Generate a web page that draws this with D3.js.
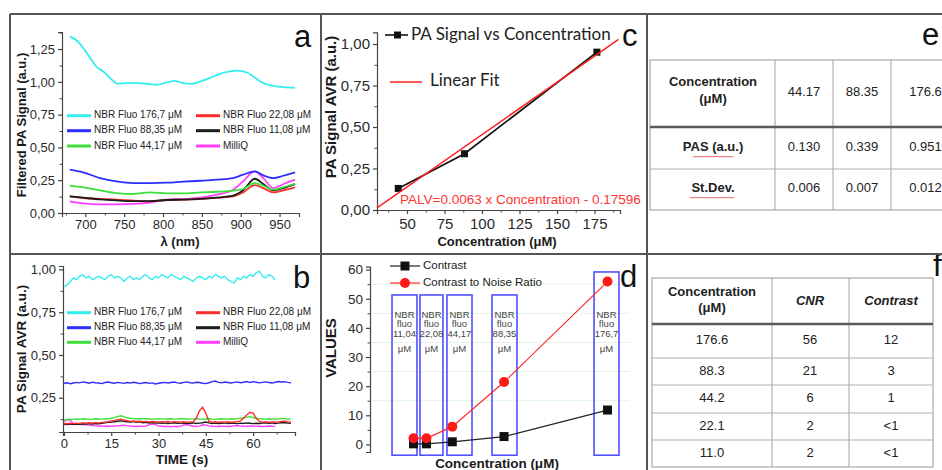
<!DOCTYPE html>
<html>
<head>
<meta charset="utf-8">
<script src="https://cdn.jsdelivr.net/npm/d3@7"></script>
<style>
body { margin: 0; background: #fff; }
svg { display: block; font-family: "Liberation Sans", Arial, sans-serif; }
</style>
</head>
<body>
<div id="chart"></div>
<script>
// ---------- data ----------
const seriesNames = ["NBR Fluo 176,7 μM", "NBR Fluo 88,35 μM", "NBR Fluo 44,17 μM",
                     "NBR Fluo 22,08 μM", "NBR Fluo 11,08 μM", "MilliQ"];

// panel a: filtered spectra
const cyanWl = [680, 689, 699, 708, 714, 723, 732, 742, 753, 770, 783, 792, 805, 815, 826, 837, 848, 860, 873, 886, 895, 908, 916, 929, 942, 955, 970];
const cyanSpec = [1.345, 1.315, 1.244, 1.168, 1.117, 1.079, 1.028, 0.985, 0.99, 0.99, 0.982, 0.977, 0.995, 1.008, 0.99, 0.985, 1.003, 1.028, 1.061, 1.079, 1.086, 1.071, 1.041, 0.99, 0.97, 0.959, 0.954];
const wl = [680, 697, 719, 740, 762, 783, 805, 826, 848, 869, 890, 903, 918, 929, 942, 955, 970];
const blueSpec  = [0.330, 0.310, 0.266, 0.241, 0.228, 0.228, 0.231, 0.239, 0.246, 0.254, 0.266, 0.292, 0.317, 0.287, 0.266, 0.284, 0.310];
const greenSpec = [0.208, 0.195, 0.173, 0.152, 0.145, 0.157, 0.150, 0.150, 0.157, 0.162, 0.170, 0.183, 0.228, 0.208, 0.178, 0.198, 0.223];
const redSpec   = [0.127, 0.114, 0.107, 0.102, 0.094, 0.089, 0.099, 0.102, 0.107, 0.117, 0.127, 0.157, 0.213, 0.190, 0.157, 0.173, 0.195];
const blackSpec = [0.127, 0.117, 0.104, 0.096, 0.091, 0.091, 0.099, 0.102, 0.107, 0.117, 0.132, 0.173, 0.261, 0.221, 0.173, 0.190, 0.221];
const milliqSpec = [0.089, 0.074, 0.066, 0.066, 0.069, 0.079, 0.102, 0.107, 0.117, 0.140, 0.178, 0.241, 0.317, 0.266, 0.190, 0.221, 0.254];

// panel b: PA signal vs time, one sample per second
const timeStep = 1;
const cyanTime = [0.90,0.91,0.93,0.95,0.94,0.96,0.97,0.95,0.96,0.94,0.95,0.96,0.95,0.94,0.96,0.97,0.95,0.96,0.95,0.93,0.95,0.96,0.94,0.95,0.94,0.96,0.97,0.95,0.94,0.96,0.95,0.97,0.96,0.95,0.97,0.96,0.95,0.94,0.96,0.95,0.94,0.93,0.95,0.96,0.95,0.94,0.96,0.95,0.97,0.96,0.95,0.96,0.94,0.93,0.92,0.95,0.94,0.96,0.95,0.97,0.96,0.98,0.99,0.96,0.95,0.97,0.96,0.94];
const blueTime = [0.335,0.338,0.332,0.336,0.340,0.337,0.343,0.339,0.335,0.341,0.338,0.336,0.333,0.339,0.342,0.338,0.335,0.340,0.337,0.334,0.339,0.336,0.341,0.338,0.333,0.336,0.339,0.334,0.337,0.331,0.335,0.338,0.340,0.336,0.339,0.342,0.337,0.335,0.340,0.343,0.338,0.336,0.341,0.339,0.335,0.333,0.338,0.344,0.348,0.340,0.337,0.342,0.339,0.336,0.340,0.343,0.338,0.341,0.345,0.339,0.344,0.341,0.337,0.340,0.343,0.339,0.336,0.341,0.345,0.342,0.344,0.340,0.338];
const greenTime = [0.120,0.123,0.125,0.124,0.126,0.125,0.127,0.126,0.124,0.125,0.127,0.126,0.125,0.128,0.127,0.130,0.134,0.140,0.145,0.140,0.133,0.130,0.128,0.127,0.126,0.128,0.127,0.126,0.125,0.126,0.128,0.127,0.125,0.126,0.127,0.125,0.126,0.128,0.127,0.126,0.125,0.127,0.128,0.126,0.125,0.126,0.127,0.125,0.124,0.126,0.127,0.126,0.125,0.127,0.126,0.128,0.130,0.133,0.137,0.140,0.135,0.130,0.127,0.126,0.125,0.127,0.126,0.125,0.127,0.129,0.128,0.126,0.125];
const redTime = [0.100,0.098,0.101,0.099,0.102,0.100,0.103,0.101,0.104,0.102,0.105,0.103,0.106,0.108,0.110,0.115,0.118,0.122,0.125,0.120,0.116,0.112,0.114,0.111,0.113,0.110,0.112,0.109,0.111,0.110,0.108,0.110,0.109,0.111,0.108,0.110,0.109,0.107,0.110,0.108,0.109,0.110,0.130,0.175,0.195,0.160,0.112,0.108,0.110,0.107,0.109,0.108,0.110,0.107,0.109,0.111,0.115,0.130,0.150,0.165,0.160,0.130,0.112,0.108,0.110,0.106,0.108,0.107,0.109,0.112,0.113,0.110,0.108];
const blackTime = [0.095,0.094,0.096,0.093,0.097,0.095,0.098,0.096,0.099,0.097,0.100,0.098,0.101,0.103,0.106,0.108,0.110,0.113,0.115,0.112,0.110,0.108,0.111,0.107,0.109,0.104,0.106,0.103,0.105,0.102,0.104,0.101,0.103,0.100,0.102,0.104,0.101,0.103,0.100,0.102,0.101,0.103,0.100,0.102,0.104,0.108,0.103,0.100,0.102,0.099,0.101,0.103,0.100,0.102,0.101,0.099,0.102,0.100,0.103,0.101,0.099,0.101,0.100,0.102,0.104,0.101,0.103,0.100,0.102,0.105,0.104,0.102,0.101];
const milliqTime = [0.110,0.122,0.118,0.100,0.095,0.093,0.094,0.092,0.090,0.088,0.086,0.085,0.086,0.084,0.085,0.083,0.085,0.086,0.088,0.090,0.087,0.085,0.083,0.082,0.084,0.083,0.085,0.092,0.098,0.093,0.086,0.084,0.082,0.083,0.081,0.083,0.082,0.084,0.090,0.094,0.088,0.085,0.083,0.084,0.092,0.090,0.086,0.084,0.083,0.082,0.084,0.083,0.082,0.084,0.086,0.088,0.085,0.083,0.084,0.086,0.085,0.083,0.084,0.082,0.083,0.085,0.084,0.083];

// panel c
const concC = [44.17, 88.35, 176.6];
const pasC = [0.130, 0.339, 0.951];
const fitSlope = 0.0063, fitIntercept = -0.17596, fitRange = [30, 191];

// panel d
const concD = [11.04, 22.08, 44.17, 88.35, 176.7];
const contrastD = [0.2, 0.2, 0.9, 2.7, 11.8];
const cnrD = [2.1, 2.1, 6.1, 21.4, 55.9];
const boxLabels = ["11,04", "22,08", "44,17", "88,35", "176,7"];

// panel e table
const tableEHead = ["44.17", "88.35", "176.6"];
const tableEPas = ["0.130", "0.339", "0.951"];
const tableEStd = ["0.006", "0.007", "0.012"];

// panel f table
const tableFConc = ["176.6", "88.3", "44.2", "22.1", "11.0"];
const tableFCnr = ["56", "21", "6", "2", "2"];
const tableFContrast = ["12", "3", "1", "<1", "<1"];

// ---------- styles / layout ----------
const colors = ["#35eeee", "#2e2eff", "#3ce03c", "#ff2d2d", "#1c1c1c", "#ff3dff"];
const W = 942, H = 470;
const FONT = '"Liberation Sans", Arial, sans-serif';

const svg = d3.select("#chart").append("svg")
    .attr("width", W)
    .attr("height", H);

const comma2 = d => d3.format(".2f")(d).replace(".", ",");

// style an axis group
function styleAxis(g, size) {
    g.select(".domain").attr("stroke", "#444").attr("stroke-width", 1.2);
    g.selectAll(".tick line").attr("stroke", "#444").attr("stroke-width", 1.2);
    g.selectAll("text")
        .attr("fill", "#2a2a2a")
        .style("font-family", FONT)
        .style("font-size", size + "px");
}

function addAxis(gen, pos, size, horizontal) {
    const g = svg.append("g")
        .attr("transform", horizontal ? `translate(0,${pos})` : `translate(${pos},0)`)
        .call(gen);
    styleAxis(g, size);
    return g;
}

function minorAxis(gen, pos, horizontal) {
    const g = svg.append("g")
        .attr("transform", horizontal ? `translate(0,${pos})` : `translate(${pos},0)`)
        .call(gen.tickSize(2.5).tickFormat(""));
    g.select(".domain").remove();
    g.selectAll(".tick line").attr("stroke", "#444").attr("stroke-width", 1);
}

function axisTitle(text, x, y, size, rotate) {
    svg.append("text")
        .attr("transform", `translate(${x},${y})` + (rotate ? " rotate(-90)" : ""))
        .attr("text-anchor", "middle")
        .attr("dominant-baseline", "middle")
        .attr("font-weight", "bold")
        .attr("font-size", size)
        .attr("fill", "#1a1a1a")
        .text(text);
}

function panelLetter(t, x, y) {
    svg.append("text")
        .attr("x", x).attr("y", y)
        .attr("font-size", 31)
        .attr("fill", "#111")
        .text(t);
}

// legend used in panels a and b
function seriesLegend(rowYs) {
    seriesNames.forEach((name, i) => {
        const col = i < 3 ? 0 : 1;
        const row = i % 3;
        const x0 = col === 0 ? 67 : 196;
        const yy = rowYs[row];
        svg.append("line")
            .attr("x1", x0).attr("x2", x0 + 24)
            .attr("y1", yy).attr("y2", yy)
            .attr("stroke", colors[i]).attr("stroke-width", 3);
        svg.append("text")
            .attr("x", x0 + 27).attr("y", yy)
            .attr("dominant-baseline", "middle")
            .attr("font-size", 10)
            .attr("fill", "#222")
            .text(name);
    });
}

// ---------- panel a ----------
const xA = d3.scaleLinear().domain([670, 975]).range([62, 299]);
const yA = d3.scaleLinear().domain([0, 1.38]).range([213, 32]);

addAxis(d3.axisBottom(xA).tickValues([700, 750, 800, 850, 900, 950]).tickSize(4).tickPadding(3), 213, 13, true);
minorAxis(d3.axisBottom(xA).tickValues([675, 725, 775, 825, 875, 925, 975]), 213, true);
addAxis(d3.axisLeft(yA).tickValues([0, 0.25, 0.5, 0.75, 1.0, 1.25]).tickFormat(comma2).tickSize(4).tickPadding(3), 62, 13, false);
minorAxis(d3.axisLeft(yA).tickValues([0.125, 0.375, 0.625, 0.875, 1.125, 1.375]), 62, false);

const specSeries = [
    cyanWl.map((w, i) => [w, cyanSpec[i]]),
    wl.map((w, i) => [w, blueSpec[i]]),
    wl.map((w, i) => [w, greenSpec[i]]),
    wl.map((w, i) => [w, redSpec[i]]),
    wl.map((w, i) => [w, blackSpec[i]]),
    wl.map((w, i) => [w, milliqSpec[i]])
];
const lineA = d3.line().x(d => xA(d[0])).y(d => yA(d[1])).curve(d3.curveMonotoneX);
[5, 3, 4, 2, 1, 0].forEach(i => {
    svg.append("path")
        .datum(specSeries[i])
        .attr("d", lineA)
        .attr("fill", "none")
        .attr("stroke", colors[i])
        .attr("stroke-width", 1.8);
});
seriesLegend([115.7, 130.7, 146]);
axisTitle("Filtered PA Signal (a.u.)", 23, 125, 13, true);
axisTitle("λ (nm)", 180, 243, 13, false);
panelLetter("a", 294, 47);

// ---------- panel b ----------
const xB = d3.scaleLinear().domain([-0.3, 73.3]).range([63, 295]);
const yB = d3.scaleLinear().domain([0.05, 1.02]).range([432, 266]);

addAxis(d3.axisBottom(xB).tickValues([0, 15, 30, 45, 60]).tickSize(4).tickPadding(3), 432, 13, true);
minorAxis(d3.axisBottom(xB).tickValues([7.5, 22.5, 37.5, 52.5, 67.5]), 432, true);
addAxis(d3.axisLeft(yB).tickValues([0.25, 0.5, 0.75, 1.0]).tickFormat(comma2).tickSize(4).tickPadding(3), 63, 13, false);
minorAxis(d3.axisLeft(yB).tickValues([0.125, 0.375, 0.625, 0.875]), 63, false);

const timeSeries = [cyanTime, blueTime, greenTime, redTime, blackTime, milliqTime];
const lineB = d3.line().x((d, i) => xB(i * timeStep)).y(d => yB(d));
[5, 4, 2, 3, 1, 0].forEach(i => {
    svg.append("path")
        .datum(timeSeries[i])
        .attr("d", lineB)
        .attr("fill", "none")
        .attr("stroke", colors[i])
        .attr("stroke-width", 1.4);
});
seriesLegend([312.7, 327.7, 342.3]);
axisTitle("PA Signal AVR (a.u.)", 22, 349, 13.5, true);
axisTitle("TIME (s)", 182, 460, 13.5, false);
panelLetter("b", 293, 288);

// ---------- panel c ----------
const xC = d3.scaleLinear().domain([30, 192]).range([377, 620]);
const yC = d3.scaleLinear().domain([0, 1.07]).range([210, 32.4]);

addAxis(d3.axisBottom(xC).tickValues([50, 75, 100, 125, 150, 175]).tickSize(4).tickPadding(4), 210, 15, true);
minorAxis(d3.axisBottom(xC).tickValues([37.5, 62.5, 87.5, 112.5, 137.5, 162.5, 187.5]), 210, true);
addAxis(d3.axisLeft(yC).tickValues([0, 0.25, 0.5, 0.75, 1.0]).tickFormat(comma2).tickSize(4).tickPadding(3), 377, 15, false);
minorAxis(d3.axisLeft(yC).tickValues([0.125, 0.375, 0.625, 0.875]), 377, false);

svg.append("path")
    .datum(concC.map((c, i) => [c, pasC[i]]))
    .attr("d", d3.line().x(d => xC(d[0])).y(d => yC(d[1])))
    .attr("fill", "none").attr("stroke", "#111").attr("stroke-width", 1.6);
svg.selectAll("rect.ptc")
    .data(concC)
    .enter().append("rect")
    .attr("class", "ptc")
    .attr("x", d => xC(d) - 3.5)
    .attr("y", (d, i) => yC(pasC[i]) - 3.5)
    .attr("width", 7).attr("height", 7)
    .attr("fill", "#111");
svg.append("line")
    .attr("x1", xC(fitRange[0])).attr("y1", yC(fitSlope * fitRange[0] + fitIntercept))
    .attr("x2", xC(fitRange[1])).attr("y2", yC(fitSlope * fitRange[1] + fitIntercept))
    .attr("stroke", "#ff2020").attr("stroke-width", 1.5);

// legend c
svg.append("line").attr("x1", 385).attr("x2", 408).attr("y1", 35).attr("y2", 35)
    .attr("stroke", "#111").attr("stroke-width", 1.6);
svg.append("rect").attr("x", 394).attr("y", 31.5).attr("width", 7).attr("height", 7).attr("fill", "#111");
svg.append("text").attr("x", 411).attr("y", 36)
    .attr("dominant-baseline", "middle")
    .style("font-family", "Lato, 'Open Sans', sans-serif")
    .attr("font-size", 17).attr("fill", "#222")
    .text("PA Signal vs Concentration");
svg.append("line").attr("x1", 390).attr("x2", 422).attr("y1", 82).attr("y2", 82)
    .attr("stroke", "#ff2020").attr("stroke-width", 1.5);
svg.append("text").attr("x", 430).attr("y", 82)
    .attr("dominant-baseline", "middle")
    .style("font-family", "Lato, 'Open Sans', sans-serif")
    .attr("font-size", 17).attr("fill", "#222")
    .text("Linear Fit");
svg.append("text").attr("x", 400).attr("y", 200)
    .attr("dominant-baseline", "middle")
    .attr("font-size", 13.5).attr("fill", "#ff3535")
    .text("PALV=0.0063 x Concentration - 0.17596");
axisTitle("PA Signal AVR (a.u.)", 332, 107, 15, true);
axisTitle("Concentration (μM)", 497, 243, 13, false);
panelLetter("c", 622, 46);

// ---------- panel d ----------
const xD = d3.scaleLinear().domain([-26.1, 195.9]).range([370, 630]);
const yD = d3.scaleLinear().domain([-2.6, 61]).range([452, 266.7]);

// faint grid
svg.selectAll("line.gridd")
    .data([15, 25, 35, 45, 55])
    .enter().append("line")
    .attr("class", "gridd")
    .attr("x1", 372).attr("x2", 630)
    .attr("y1", d => yD(d)).attr("y2", d => yD(d))
    .attr("stroke", "#e2f4e2").attr("stroke-width", 1);

addAxis(d3.axisLeft(yD).tickValues([0, 10, 20, 30, 40, 50, 60]).tickSize(4).tickPadding(3), 370, 13.5, false);
minorAxis(d3.axisLeft(yD).tickValues([5, 15, 25, 35, 45, 55]), 370, false);

// annotation boxes around each sample, in concentration / value units
const boxX0 = [-7.3, 16.6, 39.6, 78.1, 165.2];
const boxX1 = [14.0, 36.2, 61.0, 99.4, 186.5];
const boxTop = [51.3, 51.3, 51.3, 51.3, 59.2];
const boxBottom = -3.7;
boxLabels.forEach((lab, i) => {
    const x0 = xD(boxX0[i]), x1 = xD(boxX1[i]);
    svg.append("rect")
        .attr("x", x0).attr("y", yD(boxTop[i]))
        .attr("width", x1 - x0).attr("height", yD(boxBottom) - yD(boxTop[i]))
        .attr("fill", "none").attr("stroke", "#5050ff").attr("stroke-width", 1.6);
    const cx = (x0 + x1) / 2;
    [["NBR", 315], ["fluo", 324.5], [lab, 334], ["μM", 349]].forEach(([t, yy]) => {
        svg.append("text")
            .attr("x", cx).attr("y", yy)
            .attr("text-anchor", "middle").attr("dominant-baseline", "middle")
            .attr("font-size", 9.5).attr("fill", "#444")
            .text(t);
    });
});

const lineD = d3.line().x((d, i) => xD(concD[i])).y(d => yD(d));
svg.append("path").datum(contrastD).attr("d", lineD)
    .attr("fill", "none").attr("stroke", "#222").attr("stroke-width", 1.2);
svg.append("path").datum(cnrD).attr("d", lineD)
    .attr("fill", "none").attr("stroke", "#ff2a2a").attr("stroke-width", 1.2);
svg.selectAll("rect.ptd")
    .data(contrastD)
    .enter().append("rect")
    .attr("class", "ptd")
    .attr("x", (d, i) => xD(concD[i]) - 4.5)
    .attr("y", d => yD(d) - 4.5)
    .attr("width", 9).attr("height", 9)
    .attr("fill", "#111");
svg.selectAll("circle.ptd")
    .data(cnrD)
    .enter().append("circle")
    .attr("class", "ptd")
    .attr("cx", (d, i) => xD(concD[i]))
    .attr("cy", d => yD(d))
    .attr("r", 5)
    .attr("fill", "#ff1a1a");

// legend d
svg.append("line").attr("x1", 390).attr("x2", 420).attr("y1", 266).attr("y2", 266)
    .attr("stroke", "#222").attr("stroke-width", 1.2);
svg.append("rect").attr("x", 400.5).attr("y", 261.5).attr("width", 9).attr("height", 9).attr("fill", "#111");
svg.append("text").attr("x", 423).attr("y", 266).attr("dominant-baseline", "middle")
    .attr("font-size", 11.5).attr("fill", "#222").text("Contrast");
svg.append("line").attr("x1", 390).attr("x2", 420).attr("y1", 283).attr("y2", 283)
    .attr("stroke", "#ff2a2a").attr("stroke-width", 1.2);
svg.append("circle").attr("cx", 405).attr("cy", 283).attr("r", 5).attr("fill", "#ff1a1a");
svg.append("text").attr("x", 423).attr("y", 283).attr("dominant-baseline", "middle")
    .attr("font-size", 11.5).attr("fill", "#222").text("Contrast to Noise Ratio");
axisTitle("VALUES", 332, 348, 15, true);
axisTitle("Concentration (μM)", 497, 464, 13.5, false);
panelLetter("d", 620, 287);

// ---------- tables ----------
function cellText(t, x, y, opts = {}) {
    svg.append("text")
        .attr("x", x).attr("y", y)
        .attr("text-anchor", "middle").attr("dominant-baseline", "middle")
        .attr("font-size", 13)
        .attr("font-weight", opts.bold ? "bold" : "normal")
        .attr("font-style", opts.italic ? "italic" : "normal")
        .attr("fill", "#222")
        .text(t);
}
function squiggle(x0, x1, y) {
    let d = `M${x0},${y}`;
    for (let x = x0; x < x1; x += 2) d += ` L${x + 1},${y + 1.2} L${x + 2},${y}`;
    svg.append("path").attr("d", d).attr("fill", "none").attr("stroke", "#e04040").attr("stroke-width", 0.7);
}

// table e
const colE = [650, 775, 833, 891, 960];
const rowE = [60, 127, 169, 210];
svg.append("rect").attr("x", colE[0]).attr("y", rowE[0])
    .attr("width", colE[4] - colE[0]).attr("height", rowE[3] - rowE[0])
    .attr("fill", "none").attr("stroke", "#a8a8a8").attr("stroke-width", 1.2);
colE.slice(1, 4).forEach(x => svg.append("line").attr("x1", x).attr("x2", x)
    .attr("y1", rowE[0]).attr("y2", rowE[3]).attr("stroke", "#b0b0b0").attr("stroke-width", 1.2));
svg.append("line").attr("x1", colE[0]).attr("x2", colE[4]).attr("y1", rowE[2]).attr("y2", rowE[2])
    .attr("stroke", "#b0b0b0").attr("stroke-width", 1.2);
svg.append("line").attr("x1", colE[0]).attr("x2", colE[4]).attr("y1", rowE[1]).attr("y2", rowE[1])
    .attr("stroke", "#5a5a5a").attr("stroke-width", 2.5);
cellText("Concentration", 713, 83, { bold: true });
cellText("(μM)", 713, 100, { bold: true });
cellText("PAS (a.u.)", 713, 148, { bold: true });
squiggle(693, 733, 156);
cellText("St.Dev.", 713, 189, { bold: true });
squiggle(690, 734, 197);
tableEHead.forEach((t, i) => cellText(t, (colE[i + 1] + colE[i + 2]) / 2, 93));
tableEPas.forEach((t, i) => cellText(t, (colE[i + 1] + colE[i + 2]) / 2, 148));
tableEStd.forEach((t, i) => cellText(t, (colE[i + 1] + colE[i + 2]) / 2, 189));
panelLetter("e", 922, 45);

// table f
const colF = [652, 772, 849, 933];
const rowF = [278, 324, 358, 385, 413, 440, 467];
svg.append("rect").attr("x", colF[0]).attr("y", rowF[0])
    .attr("width", colF[3] - colF[0]).attr("height", rowF[6] - rowF[0])
    .attr("fill", "none").attr("stroke", "#a8a8a8").attr("stroke-width", 1.2);
colF.slice(1, 3).forEach(x => svg.append("line").attr("x1", x).attr("x2", x)
    .attr("y1", rowF[0]).attr("y2", rowF[6]).attr("stroke", "#b0b0b0").attr("stroke-width", 1.2));
rowF.slice(2, 6).forEach(y => svg.append("line").attr("x1", colF[0]).attr("x2", colF[3])
    .attr("y1", y).attr("y2", y).attr("stroke", "#b0b0b0").attr("stroke-width", 1.2));
svg.append("line").attr("x1", colF[0]).attr("x2", colF[3]).attr("y1", rowF[1]).attr("y2", rowF[1])
    .attr("stroke", "#5a5a5a").attr("stroke-width", 2.5);
cellText("Concentration", 712, 293, { bold: true });
cellText("(μM)", 712, 309, { bold: true });
cellText("CNR", 810, 302, { bold: true, italic: true });
cellText("Contrast", 891, 302, { bold: true, italic: true });
tableFConc.forEach((t, i) => {
    const yy = (rowF[i + 1] + rowF[i + 2]) / 2;
    cellText(t, 712, yy);
    cellText(tableFCnr[i], 810, yy);
    cellText(tableFContrast[i], 891, yy);
});
panelLetter("f", 933, 276);

// ---------- frame ----------
const frame = svg.append("g").attr("stroke", "#555").attr("stroke-width", 2);
frame.append("line").attr("x1", 10).attr("x2", W).attr("y1", 14).attr("y2", 14);
frame.append("line").attr("x1", 10).attr("x2", 10).attr("y1", 14).attr("y2", H);
frame.append("line").attr("x1", 321).attr("x2", 321).attr("y1", 14).attr("y2", H);
frame.append("line").attr("x1", 647).attr("x2", 647).attr("y1", 14).attr("y2", H);
frame.append("line").attr("x1", 10).attr("x2", W).attr("y1", 254).attr("y2", 254);
</script>
</body>
</html>
